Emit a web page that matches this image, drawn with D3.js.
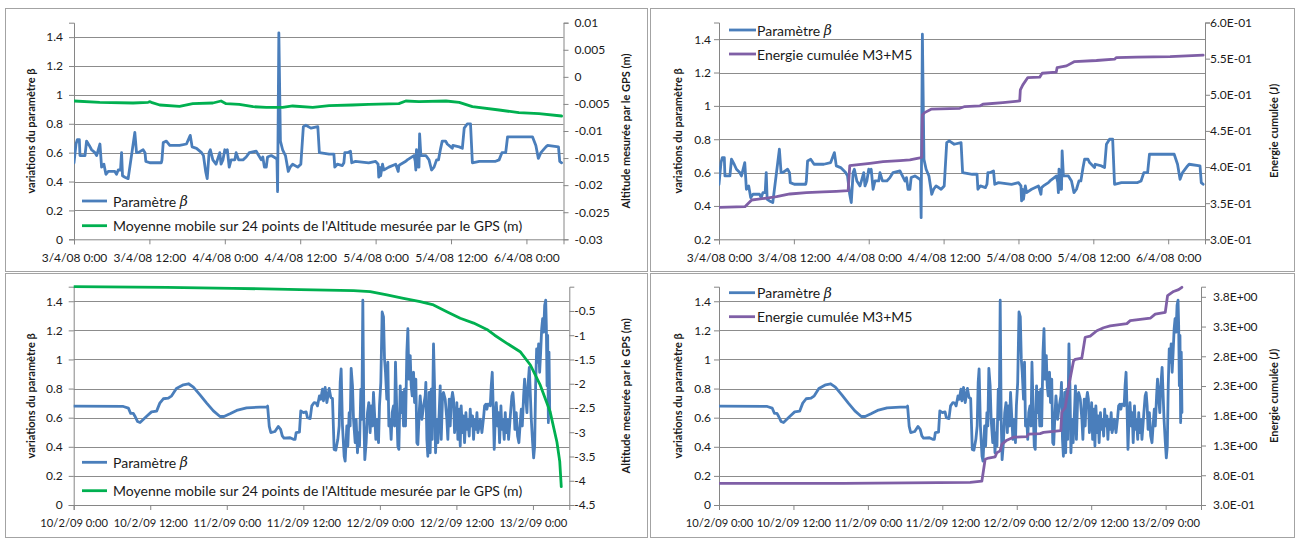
<!DOCTYPE html>
<html><head><meta charset="utf-8">
<script src="https://cdn.jsdelivr.net/npm/d3@7"></script>
<style>
html,body{margin:0;padding:0;background:#fff;}
svg{display:block;font-family:Lato,"Open Sans",sans-serif;}
</style></head><body>
<svg id="c" width="1296" height="540"></svg>
<script>
// ---------------- DATA (hours since start, value) ----------------
const betaTop = [[0,0.53],[0.32,0.66],[0.53,0.69],[0.85,0.69],[0.95,0.58],[1.75,0.58],[2.0,0.68],[2.43,0.65],[2.8,0.62],[3.33,0.6],[3.6,0.58],[4.13,0.66],[4.39,0.5],[4.76,0.52],[5.08,0.45],[5.45,0.47],[6.5,0.47],[6.77,0.45],[7.04,0.48],[7.4,0.48],[7.57,0.6],[7.72,0.44],[8.1,0.43],[8.62,0.42],[9.68,0.74],[9.95,0.6],[10.2,0.6],[11.0,0.62],[11.3,0.6],[11.43,0.54],[12.06,0.53],[13.9,0.53],[14.0,0.55],[14.2,0.67],[14.7,0.68],[15.24,0.65],[16.8,0.65],[17.9,0.66],[18.5,0.72],[18.8,0.64],[19.5,0.63],[20.3,0.6],[20.6,0.58],[20.95,0.47],[21.2,0.42],[21.5,0.6],[21.7,0.62],[22.1,0.55],[22.6,0.52],[22.9,0.56],[23.2,0.6],[23.4,0.52],[23.7,0.55],[24.0,0.62],[24.2,0.6],[24.4,0.62],[24.7,0.5],[25.0,0.55],[25.6,0.55],[25.8,0.6],[26.2,0.55],[26.9,0.55],[27.4,0.57],[27.9,0.6],[29.0,0.61],[29.4,0.58],[29.8,0.55],[30.05,0.57],[30.3,0.5],[30.6,0.5],[30.8,0.57],[31.4,0.58],[32.2,0.56],[32.3,0.55],[32.4,0.33],[32.6,1.43],[32.85,0.68],[33.2,0.62],[33.65,0.58],[34.1,0.47],[34.4,0.5],[34.8,0.52],[35.6,0.5],[36.1,0.52],[36.5,0.78],[36.9,0.79],[37.7,0.77],[38.8,0.78],[39.05,0.6],[40.6,0.59],[41.36,0.59],[41.5,0.5],[41.9,0.52],[42.7,0.51],[42.95,0.53],[43.1,0.6],[43.5,0.6],[44.0,0.61],[44.2,0.53],[44.8,0.54],[46.9,0.53],[48.0,0.54],[48.4,0.52],[48.5,0.43],[48.6,0.5],[48.8,0.44],[49.1,0.52],[49.3,0.48],[50.1,0.5],[51.2,0.52],[51.6,0.47],[51.7,0.51],[52.0,0.52],[52.8,0.54],[53.05,0.55],[54.1,0.58],[54.3,0.54],[54.4,0.48],[54.5,0.62],[54.8,0.5],[54.9,0.5],[55.0,0.73],[55.2,0.58],[56.0,0.58],[56.5,0.55],[56.9,0.48],[57.3,0.5],[57.7,0.55],[58.0,0.55],[58.35,0.63],[58.6,0.68],[59.15,0.68],[59.4,0.66],[59.95,0.64],[60.2,0.63],[60.3,0.65],[61.3,0.64],[61.8,0.63],[62.1,0.77],[62.6,0.8],[63.1,0.8],[63.4,0.53],[64.5,0.54],[67.1,0.54],[67.65,0.55],[68.1,0.6],[68.7,0.6],[69.0,0.71],[72.96,0.71],[73.5,0.65],[73.9,0.56],[74.3,0.6],[75.1,0.64],[75.35,0.65],[77.1,0.64],[77.3,0.54],[77.6,0.53]];

const altTop = [[0,-0.00446],[4.1,-0.0047],[9.4,-0.00483],[11.8,-0.0047],[12.1,-0.00458],[12.3,-0.0047],[13.65,-0.0052],[16.8,-0.00545],[18.9,-0.00495],[22.1,-0.00483],[23.4,-0.00446],[24.2,-0.00495],[26.3,-0.00508],[28.5,-0.00551],[30.6,-0.00563],[33.2,-0.00563],[34.8,-0.00538],[38.0,-0.00563],[40.6,-0.00532],[44.3,-0.0052],[46.9,-0.00508],[51.7,-0.00495],[52.8,-0.00446],[54.9,-0.00458],[59.2,-0.00446],[61.3,-0.00471],[63.4,-0.00551],[67.65,-0.00612],[70.8,-0.00662],[74.0,-0.0068],[77.6,-0.00723]];

const energyTop = [[0,0.3442],[4.16,0.3451],[5.23,0.3544],[6.03,0.3553],[7.36,0.3567],[9.23,0.359],[11.36,0.3627],[14.0,0.3645],[16.7,0.3655],[18.8,0.3664],[20.7,0.3673],[20.96,0.4019],[22.0,0.4029],[24.2,0.4052],[26.3,0.4075],[29.0,0.4089],[30.6,0.4098],[32.2,0.4126],[32.5,0.4135],[32.6,0.4721],[32.96,0.4753],[34.0,0.48],[37.0,0.4809],[38.6,0.4813],[39.4,0.4837],[41.8,0.4846],[42.3,0.4869],[45.5,0.4892],[48.2,0.4915],[48.3,0.5067],[48.7,0.5137],[49.5,0.5238],[51.4,0.5243],[51.8,0.5298],[54.05,0.5312],[54.2,0.5377],[55.7,0.54],[57.0,0.546],[60.5,0.5474],[63.4,0.5492],[63.7,0.5515],[66.9,0.552],[72.3,0.5529],[77.6,0.5548]];

const betaBottom = [[0,0.68],[7.78,0.677],[8.57,0.666],[8.93,0.63],[9.35,0.63],[9.6,0.61],[10.0,0.574],[10.4,0.567],[11.44,0.61],[12.2,0.64],[13.0,0.645],[13.5,0.7],[14.05,0.73],[14.84,0.734],[15.36,0.75],[16.1,0.8],[17.2,0.826],[18.0,0.833],[18.76,0.81],[19.8,0.757],[20.85,0.7],[21.9,0.647],[22.94,0.608],[23.56,0.608],[24.5,0.627],[25.55,0.65],[27.1,0.668],[29.2,0.672],[30.25,0.672],[30.4,0.68],[30.66,0.54],[30.9,0.498],[31.55,0.505],[32.07,0.54],[32.44,0.52],[32.7,0.475],[32.97,0.46],[33.93,0.462],[34.45,0.451],[34.71,0.451],[34.87,0.497],[35.39,0.501],[35.6,0.647],[36.02,0.635],[36.44,0.64],[36.65,0.6],[37.07,0.594],[37.33,0.681],[37.7,0.704],[38.01,0.7],[38.22,0.681],[38.53,0.75],[38.74,0.727],[39.0,0.796],[39.16,0.716],[39.42,0.808],[39.69,0.704],[40.05,0.801],[40.31,0.739],[40.57,0.732],[40.83,0.382],[41.09,0.377],[41.41,0.451],[41.62,0.543],[41.78,0.842],[41.93,0.935],[42.14,0.543],[42.4,0.335],[42.56,0.301],[42.82,0.543],[42.98,0.405],[43.19,0.635],[43.34,0.543],[43.5,0.939],[43.71,0.819],[43.87,0.589],[44.13,0.428],[44.28,0.589],[44.49,0.359],[44.65,0.497],[44.81,0.405],[45.02,0.796],[45.17,0.589],[45.33,1.407],[45.49,0.589],[45.64,0.312],[45.85,0.428],[46.06,0.635],[46.27,0.704],[46.48,0.497],[46.63,0.681],[46.84,0.543],[47.0,0.773],[47.16,0.635],[47.37,0.451],[47.52,0.589],[47.79,0.428],[47.94,0.681],[48.15,0.842],[48.36,1.326],[48.57,1.292],[48.73,1.004],[48.88,0.912],[49.09,0.727],[49.25,0.981],[49.41,0.543],[49.61,0.589],[49.77,0.451],[49.93,0.635],[50.14,0.681],[50.3,0.543],[50.45,0.981],[50.66,0.635],[50.82,0.405],[50.98,0.382],[51.19,0.819],[51.34,0.635],[51.5,0.773],[51.71,0.543],[51.87,0.796],[52.02,0.543],[52.23,1.05],[52.39,1.211],[52.55,0.865],[52.76,1.027],[52.91,0.819],[53.07,0.75],[53.28,0.912],[53.44,0.704],[53.64,0.865],[53.8,0.428],[53.96,0.416],[54.17,0.635],[54.32,0.75],[54.59,0.589],[54.85,0.681],[55.11,0.75],[55.21,0.842],[55.37,0.451],[55.52,0.335],[55.73,0.773],[55.89,0.359],[56.05,0.796],[56.2,0.451],[56.41,1.107],[56.57,0.819],[56.73,0.359],[56.94,0.589],[57.09,0.428],[57.3,0.635],[57.46,0.819],[57.62,0.451],[57.83,0.75],[57.98,0.773],[58.24,0.727],[58.5,0.589],[58.66,0.451],[58.87,0.727],[59.03,0.543],[59.18,0.704],[59.39,0.773],[59.55,0.727],[59.71,0.497],[59.92,0.589],[60.07,0.704],[60.23,0.451],[60.44,0.658],[60.6,0.405],[60.75,0.681],[60.96,0.497],[61.12,0.612],[61.28,0.428],[61.49,0.635],[61.64,0.52],[61.8,0.589],[62.01,0.474],[62.17,0.658],[62.32,0.543],[62.53,0.612],[62.69,0.451],[62.85,0.589],[63.06,0.52],[63.22,0.635],[63.37,0.497],[63.58,0.543],[63.74,0.589],[64.0,0.497],[64.26,0.6],[64.42,0.681],[64.63,0.693],[64.78,0.658],[64.94,0.693],[65.15,0.693],[65.31,0.681],[65.46,0.819],[65.62,0.912],[65.78,0.658],[65.93,0.382],[66.09,0.589],[66.25,0.704],[66.46,0.543],[66.61,0.635],[66.77,0.428],[66.98,0.681],[67.13,0.52],[67.29,0.589],[67.5,0.451],[67.66,0.635],[67.81,0.497],[68.02,0.589],[68.18,0.451],[68.34,0.543],[68.49,0.635],[68.7,0.75],[68.86,0.773],[69.02,0.681],[69.17,0.52],[69.38,0.635],[69.59,0.474],[69.8,0.428],[70.01,0.566],[70.17,0.658],[70.33,0.543],[70.54,0.75],[70.69,0.865],[70.85,0.75],[71.06,0.635],[71.22,0.819],[71.43,0.946],[71.58,0.773],[71.74,0.589],[71.95,0.428],[72.11,0.324],[72.27,0.405],[72.42,0.819],[72.58,1.073],[72.74,0.981],[72.89,1.107],[73.05,0.912],[73.21,1.05],[73.37,1.211],[73.52,1.28],[73.68,1.188],[73.84,1.372],[74.0,1.407],[74.1,1.234],[74.21,0.819],[74.31,1.165],[74.42,0.566],[74.52,1.05],[74.63,0.635]];

const altBottom = [[0,0],[14.6,-0.012],[25,-0.033],[35.5,-0.06],[43.87,-0.081],[46.48,-0.101],[49.1,-0.17],[51.7,-0.239],[54.32,-0.308],[56.41,-0.376],[58.5,-0.514],[60.6,-0.651],[62.7,-0.75],[64.78,-0.88],[66.0,-1.0],[67.92,-1.167],[70.0,-1.34],[71.6,-1.614],[73.15,-2.03],[74.7,-2.58],[75.76,-3.2],[76.2,-3.6],[76.44,-4.12]];

const energyBottom = [[0,0.664],[20,0.664],[40.5,0.68],[42.37,0.7],[42.63,0.877],[42.9,1.07],[43.44,1.09],[44.52,1.11],[44.78,1.18],[45.32,1.21],[45.59,1.32],[46.4,1.39],[47.47,1.44],[49.62,1.45],[49.89,1.49],[51.77,1.5],[52.31,1.52],[55.1,1.55],[55.27,1.86],[55.81,1.94],[56.34,2.28],[57.15,2.72],[57.42,2.75],[58.49,2.77],[59.03,3.12],[59.84,3.14],[60.91,3.23],[61.99,3.28],[63.06,3.31],[65.75,3.35],[66.29,3.4],[69.52,3.44],[70.32,3.51],[71.94,3.54],[72.31,3.82],[73.28,3.89],[74.09,3.92],[74.62,3.96]];

// ---------------- TICKS & LABELS ----------------
const xTickHours = [0, 12, 24, 36, 48, 60, 72];
const xLabelsTop = ["3/4/08 0:00","3/4/08 12:00","4/4/08 0:00","4/4/08 12:00","5/4/08 0:00","5/4/08 12:00","6/4/08 0:00"];
const xLabelsBottom = ["10/2/09 0:00","10/2/09 12:00","11/2/09 0:00","11/2/09 12:00","12/2/09 0:00","12/2/09 12:00","13/2/09 0:00"];
const betaTicksFrom0 = [0, 0.2, 0.4, 0.6, 0.8, 1, 1.2, 1.4];
const betaTicksFrom02 = [0.2, 0.4, 0.6, 0.8, 1, 1.2, 1.4];
const altTicksTop = [0.01, 0.005, 0, -0.005, -0.01, -0.015, -0.02, -0.025, -0.03];
const altTicksBottom = [-0.5, -1, -1.5, -2, -2.5, -3, -3.5, -4, -4.5];
const energyTicksTop = [0.3, 0.35, 0.4, 0.45, 0.5, 0.55, 0.6];
const energyTicksBottom = [0.3, 0.8, 1.3, 1.8, 2.3, 2.8, 3.3, 3.8];
const seriesNames = ["Paramètre ", "Moyenne mobile sur 24 points de l'Altitude mesurée par le GPS (m)", "Energie cumulée M3+M5"];
const titleLeft = "variations du paramètre β";
const titleAlt = "Altitude mesurée par le GPS (m)";
const titleEnergy = "Energie cumulée  (J)";

// ---------------- STYLE ----------------
const BLUE = "#4a7ebb", GREEN = "#00b050", PURPLE = "#7f5fa6";
const GRID = "#8c8c8c", AXIS = "#868686", BORDER = "#a3a3a3", TXT = "#1a1a1a";

const fmtDec = v => String(+v.toFixed(4));
const fmtExp = v => { const [m, e] = v.toExponential(1).split("e"); const s = e[0] === "-" ? "-" : "+"; return m + "E" + s + e.replace(/[+-]/, "").padStart(2, "0"); };

const panels = [
  { border:[5.5,8.5,642,263], l:74, r:563.5, t:22.7, b:239.3, xMax:77.9, xLabels:xLabelsTop, xfs:12,
    left:[0,1.5], leftTicks:betaTicksFrom0, right:[-0.03,0.01], rightTicks:altTicksTop, rightFmt:fmtDec,
    beta:betaTop, sec:altTop, secColor:GREEN, secName:seriesNames[1], rightTitle:titleAlt,
    leg:{x1:82,x2:107,tx:113,y:[201,225.7]}, ltx:30, rtx:625, lgap:11, rgap:11 },
  { border:[650.5,8.5,644,263], l:719, r:1205, t:22.5, b:239.3, xMax:77.9, xLabels:xLabelsTop, xfs:12,
    left:[0.2,1.5], leftTicks:betaTicksFrom02, right:[0.3,0.6], rightTicks:energyTicksTop, rightFmt:fmtExp,
    beta:betaTop, sec:energyTop, secColor:PURPLE, secName:seriesNames[2], rightTitle:titleEnergy,
    leg:{x1:729,x2:756,tx:757,y:[30,54]}, ltx:677, rtx:1273, lgap:8, rgap:5 },
  { border:[5.5,273.5,642,264], l:73.7, r:569.3, t:286.7, b:505, xMax:77.7, xLabels:xLabelsBottom, xfs:11.2,
    left:[0,1.5], leftTicks:betaTicksFrom0, right:[-4.5,0], rightTicks:altTicksBottom, rightFmt:fmtDec,
    beta:betaBottom, sec:altBottom, secColor:GREEN, secName:seriesNames[1], rightTitle:titleAlt,
    leg:{x1:82,x2:107,tx:113,y:[462.3,490.7]}, ltx:30, rtx:625, lgap:11, rgap:5 },
  { border:[650.5,273.5,644,264], l:719, r:1201, t:286.7, b:505, xMax:77.7, xLabels:xLabelsBottom, xfs:11.2,
    left:[0,1.5], leftTicks:betaTicksFrom0, right:[0.3,3.97], rightTicks:energyTicksBottom, rightFmt:fmtExp,
    beta:betaBottom, sec:energyBottom, secColor:PURPLE, secName:seriesNames[2], rightTitle:titleEnergy,
    leg:{x1:729,x2:755,tx:757,y:[292.7,316.7]}, ltx:677, rtx:1273, lgap:8, rgap:12 }
];

const svg = d3.select("#c");
svg.append("rect").attr("width",1296).attr("height",540).attr("fill","#fff");

panels.forEach((p, pi) => {
  const g = svg.append("g");
  g.append("rect").attr("x",p.border[0]).attr("y",p.border[1]).attr("width",p.border[2]).attr("height",p.border[3])
    .attr("fill","#fff").attr("stroke",BORDER).attr("stroke-width",1);

  const x = d3.scaleLinear().domain([0,p.xMax]).range([p.l,p.r]);
  const yL = d3.scaleLinear().domain(p.left).range([p.b,p.t]);
  const yR = d3.scaleLinear().domain(p.right).range([p.b,p.t]);

  // gridlines
  g.append("g").selectAll("line").data(p.leftTicks.filter(v => v !== p.left[0])).join("line")
    .attr("x1",p.l).attr("x2",p.r).attr("y1",d => Math.round(yL(d))+0.5).attr("y2",d => Math.round(yL(d))+0.5)
    .attr("stroke",GRID).attr("stroke-width",1);

  const la = g.append("g").attr("transform",`translate(${p.l},0)`)
    .call(d3.axisLeft(yL).tickValues(p.leftTicks).tickSize(5).tickPadding(p.lgap-5).tickFormat(d => String(d)));
  const ra = g.append("g").attr("transform",`translate(${p.r},0)`)
    .call(d3.axisRight(yR).tickValues(p.rightTicks).tickSize(5).tickPadding(p.rgap-5).tickFormat(p.rightFmt));
  const ba = g.append("g").attr("transform",`translate(0,${p.b})`)
    .call(d3.axisBottom(x).tickValues(xTickHours).tickSize(5).tickPadding(9).tickFormat((d,i) => p.xLabels[i]));
  [la,ra,ba].forEach(a => {
    a.select(".domain").attr("stroke",AXIS).attr("stroke-width",1);
    a.selectAll(".tick line").attr("stroke",AXIS);
    a.selectAll("text").attr("fill",TXT).style("font-family","Lato, sans-serif").style("font-size","12px");
  });
  ra.selectAll("text").attr("x", p.rgap);
  ba.selectAll("text").style("font-size",p.xfs+"px");

  g.append("text").attr("transform",`translate(${p.ltx},${(p.t+p.b)/2}) rotate(-90)`)
    .attr("text-anchor","middle").attr("dominant-baseline","central")
    .style("font-size","11px").style("font-weight","bold").attr("fill",TXT).text(titleLeft);
  g.append("text").attr("transform",`translate(${p.rtx},${(p.t+p.b)/2}) rotate(-90)`)
    .attr("text-anchor","middle").attr("dominant-baseline","central")
    .style("font-size","11px").style("font-weight","bold").attr("fill",TXT).text(p.rightTitle);

  const clipId = "clip"+pi;
  svg.append("clipPath").attr("id",clipId).append("rect")
    .attr("x",p.l).attr("y",p.t-3).attr("width",p.r-p.l+2).attr("height",p.b-p.t+6);
  const lines = g.append("g").attr("clip-path",`url(#${clipId})`);
  const lb = d3.line().x(d => x(d[0])).y(d => yL(d[1]));
  const lr = d3.line().x(d => x(d[0])).y(d => yR(d[1]));
  lines.append("path").datum(p.beta).attr("d",lb).attr("fill","none").attr("stroke",BLUE)
    .attr("stroke-width",2.8).attr("stroke-linejoin","round").attr("stroke-linecap","round");
  lines.append("path").datum(p.sec).attr("d",lr).attr("fill","none").attr("stroke",p.secColor)
    .attr("stroke-width",2.8).attr("stroke-linejoin","round").attr("stroke-linecap","round");

  const leg = g.append("g");
  [[BLUE, seriesNames[0], true],[p.secColor, p.secName, false]].forEach((s, i) => {
    const yy = p.leg.y[i];
    leg.append("line").attr("x1",p.leg.x1).attr("x2",p.leg.x2).attr("y1",yy).attr("y2",yy)
      .attr("stroke",s[0]).attr("stroke-width",2.8);
    const t = leg.append("text").attr("x",p.leg.tx).attr("y",yy).attr("dominant-baseline","central")
      .style("font-size","14px").attr("fill",TXT).text(s[1]);
    if (s[2]) t.append("tspan").style("font-style","italic").style("font-family","'DejaVu Serif', serif").style("font-size","14px").text("β");
  });
});
</script>
</body></html>
